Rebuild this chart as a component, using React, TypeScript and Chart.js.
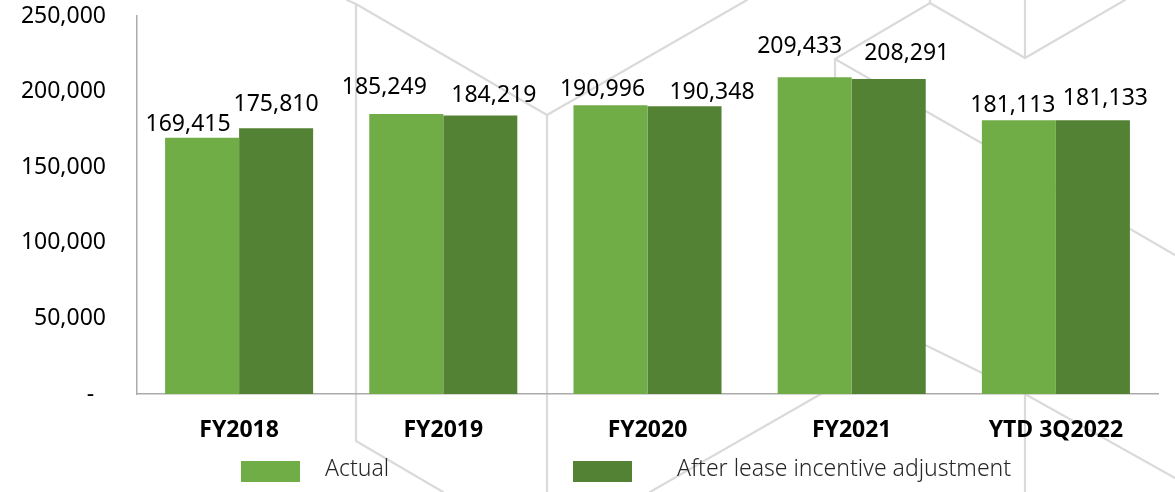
import React, { useEffect, useRef } from "react";
import { Chart, registerables } from "chart.js";

Chart.register(...registerables);

const categories = ["FY2018", "FY2019", "FY2020", "FY2021", "YTD 3Q2022"];
const actualValues = [169415, 185249, 190996, 209433, 181113];
const adjustedValues = [175810, 184219, 190348, 208291, 181133];
const seriesNames = ["Actual", "After lease incentive adjustment"];
const yMax = 250000;
const yStep = 50000;

const FONT = "'Noto Sans', 'Open Sans', sans-serif";
const LIGHT = "#70AD47";
const DARK = "#548235";

const hexBackground = {
  id: "hexBackground",
  beforeDraw(chart: any) {
    const ctx = chart.ctx;
    const segs: number[][] = [
      [347, 0, 356, 4],
      [356, 4, 356, 441],
      [356, 441, 443, 492],
      [356, 4, 547, 115],
      [547, 115, 547, 492],
      [547, 115, 747, 0],
      [835, 59, 835, 200],
      [835, 59, 930, 3],
      [930, 3, 930, 0],
      [930, 3, 1025, 58],
      [1025, 0, 1025, 58],
      [1025, 58, 1125, 0],
      [835, 59, 1025, 168],
      [1025, 168, 1175, 255],
      [650, 492, 915, 340],
      [915, 340, 1025, 394],
      [1025, 394, 1175, 478],
      [1025, 394, 1025, 492],
    ];
    ctx.save();
    ctx.strokeStyle = "#dadada";
    ctx.lineWidth = 2.2;
    ctx.lineCap = "round";
    for (const s of segs) {
      ctx.beginPath();
      ctx.moveTo(s[0], s[1]);
      ctx.lineTo(s[2], s[3]);
      ctx.stroke();
    }
    ctx.restore();
  },
};

const valueLabels = {
  id: "valueLabels",
  afterDatasetsDraw(chart: any, _args: any, opts: any) {
    const ctx = chart.ctx;
    ctx.save();
    ctx.font = `23px ${FONT}`;
    ctx.fillStyle = "#000";
    ctx.textAlign = "center";
    ctx.textBaseline = "alphabetic";
    chart.data.datasets.forEach((ds: any, di: number) => {
      const meta = chart.getDatasetMeta(di);
      meta.data.forEach((el: any, i: number) => {
        const [dx, dy] = opts.nudges[di][i];
        const txt = Number(ds.data[i]).toLocaleString("en-US");
        ctx.fillText(txt, el.x + dx, el.y + dy + 8);
      });
    });
    ctx.restore();
  },
};

const customLegend = {
  id: "customLegend",
  afterDraw(chart: any, _args: any, opts: any) {
    const ctx = chart.ctx;
    ctx.save();
    chart.data.datasets.forEach((ds: any, di: number) => {
      const it = opts.items[di];
      ctx.fillStyle = ds.backgroundColor;
      ctx.fillRect(it.box, opts.boxTop, opts.boxW, opts.boxH);
      ctx.fillStyle = "#262626";
      ctx.font = `300 23px ${FONT}`;
      ctx.textAlign = "left";
      ctx.textBaseline = "alphabetic";
      ctx.fillText(ds.label, it.text, opts.baseline);
    });
    ctx.restore();
  },
};

export default function App() {
  const canvasRef = useRef<HTMLCanvasElement | null>(null);

  useEffect(() => {
    const canvas = canvasRef.current;
    if (!canvas) return;
    const chart = new Chart(canvas, {
      type: "bar",
      data: {
        labels: categories,
        datasets: [
          {
            label: seriesNames[0],
            data: actualValues,
            backgroundColor: LIGHT,
            categoryPercentage: 0.725,
            barPercentage: 1,
          },
          {
            label: seriesNames[1],
            data: adjustedValues,
            backgroundColor: DARK,
            categoryPercentage: 0.725,
            barPercentage: 1,
          },
        ],
      },
      options: {
        responsive: false,
        animation: false,
        devicePixelRatio: 1,
        layout: { padding: { top: 16, right: 17, left: 0, bottom: 0 } },
        plugins: {
          legend: { display: false },
          tooltip: { enabled: false },
          valueLabels: {
            nudges: [
              [[-14, -15], [-22, -28], [-8, -17], [-15, -32], [-6, -16.5]],
              [[0, -25.5], [13.5, -21], [27.5, -15], [18, -27], [12.5, -23.5]],
            ],
          },
          customLegend: {
            items: [
              { box: 241, text: 325 },
              { box: 573, text: 677 },
            ],
            boxTop: 461,
            boxW: 59,
            boxH: 21,
            baseline: 476,
          },
        } as any,
        scales: {
          x: {
            grid: { display: false, drawTicks: false },
            border: { display: true, color: "#ababab", width: 1.5 },
            ticks: {
              font: { family: FONT, size: 23, weight: "bold" },
              color: "#000",
              padding: 23,
              autoSkip: false,
              maxRotation: 0,
            },
            afterFit: (s: any) => {
              s.height = 98;
              s.paddingLeft = 0;
              s.paddingRight = 0;
            },
          },
          y: {
            min: 0,
            max: yMax,
            grid: { display: false, drawTicks: false },
            border: { display: true, color: "#ababab", width: 1.5 },
            ticks: {
              stepSize: yStep,
              font: { family: FONT, size: 23 },
              color: "#000",
              padding: 31,
              callback: (v: any) => (Number(v) === 0 ? "-  " : Number(v).toLocaleString("en-US")),
            },
            afterFit: (s: any) => {
              s.width = 137;
              s.paddingTop = 0;
              s.paddingBottom = 0;
            },
          },
        },
      },
      plugins: [hexBackground, valueLabels, customLegend],
    });
    return () => chart.destroy();
  }, []);

  return (
    <div style={{ position: "absolute", left: 0, top: 0, width: 1175, height: 492, background: "#fff" }}>
      <canvas ref={canvasRef} width={1175} height={492} style={{ display: "block" }} />
    </div>
  );
}
